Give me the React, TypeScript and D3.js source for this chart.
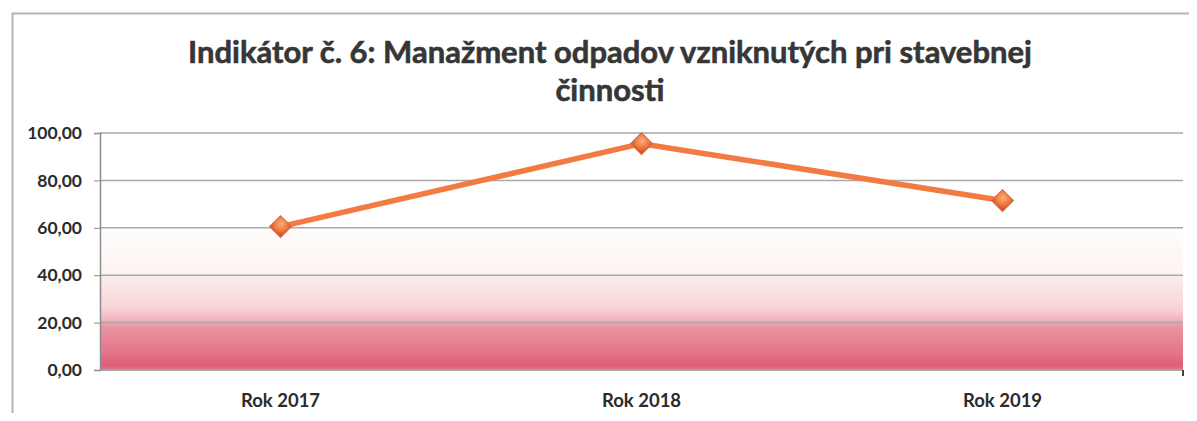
import React, { useEffect, useRef } from 'react'
import * as d3 from 'd3'

const categories = ['Rok 2017', 'Rok 2018', 'Rok 2019']
const values = [60.5, 95.5, 71.5]
const yTicks = [0, 20, 40, 60, 80, 100]
const titleLines = ['Indikátor č. 6: Manažment odpadov vzniknutých pri stavebnej', 'činnosti']

const App = () => {
  const svgRef = useRef<SVGSVGElement>(null)

  useEffect(() => {
    const width = 1197
    const height = 421
    const margin = { top: 133, right: 14, bottom: 51, left: 100 }
    const innerW = width - margin.left - margin.right
    const innerH = height - margin.top - margin.bottom
    const font = 'Lato, "Open Sans", sans-serif'

    const svg = d3.select(svgRef.current)
      .attr('width', width)
      .attr('height', height)
    svg.selectAll('*').remove()

    // frame
    svg.append('rect').attr('width', width).attr('height', height).attr('fill', '#fff')
    svg.append('path')
      .attr('d', `M12.5,${height} V13.5 H${width}`)
      .attr('fill', 'none')
      .attr('stroke', '#b5b5b5')
      .attr('stroke-width', 2)

    // title
    const title = svg.append('text')
      .attr('text-anchor', 'middle')
      .attr('font-family', font)
      .attr('font-weight', 700)
      .attr('font-size', 31)
      .attr('fill', '#363636')
      .attr('stroke', '#363636')
      .attr('stroke-width', 0.6)
    titleLines.forEach((t, i) => {
      title.append('tspan').attr('x', 610).attr('y', 63 + i * 38).text(t)
    })

    const g = svg.append('g').attr('transform', `translate(${margin.left},${margin.top})`)

    const x = d3.scaleBand().domain(categories).range([0, innerW])
    const y = d3.scaleLinear().domain([0, 100]).range([innerH, 0])

    // background gradient of plot area
    const defs = svg.append('defs')
    const grad = defs.append('linearGradient')
      .attr('id', 'bg-grad')
      .attr('x1', 0).attr('y1', 0).attr('x2', 0).attr('y2', 1)
    const stops: [number, string][] = [
      [0, '#ffffff'],
      [0.38, '#ffffff'],
      [0.44, '#fefbfa'],
      [0.595, '#fcf4f3'],
      [0.605, '#fbeded'],
      [0.74, '#f8d4d8'],
      [0.785, '#f4b6bf'],
      [0.8, '#efa3ae'],
      [0.82, '#eb93a0'],
      [0.93, '#e3738a'],
      [0.98, '#dd5f77'],
      [1, '#e2798a'],
    ]
    stops.forEach(([o, c]) => grad.append('stop').attr('offset', o).attr('stop-color', c))

    g.append('rect')
      .attr('width', innerW)
      .attr('height', innerH)
      .attr('fill', 'url(#bg-grad)')

    // gridlines
    g.append('g')
      .selectAll('line')
      .data(yTicks.filter(d => d > 0))
      .join('line')
      .attr('x1', 0)
      .attr('x2', innerW)
      .attr('y1', d => y(d))
      .attr('y2', d => y(d))
      .attr('stroke', '#a9a9a9')
      .attr('stroke-width', 1.5)

    // y axis
    const yAxis = g.append('g')
      .call(d3.axisLeft(y).tickValues(yTicks).tickSize(6).tickFormat(d => d3.format('.2f')(d as number).replace('.', ',')))
    yAxis.select('.domain').attr('stroke', '#8c8c8c').attr('stroke-width', 1.5)
    yAxis.selectAll('.tick line').attr('stroke', '#8c8c8c')
    yAxis.selectAll('.tick text')
      .attr('x', -18)
      .attr('font-family', font)
      .attr('font-weight', 700)
      .attr('font-size', 17.5)
      .attr('fill', '#2b2b2b')

    // x axis
    const xAxis = g.append('g')
      .attr('transform', `translate(0,${innerH})`)
      .call(d3.axisBottom(x).tickSize(0).tickPadding(0))
    xAxis.select('.domain').attr('stroke', '#b0b0b0').attr('stroke-width', 1)
    xAxis.selectAll('.tick text')
      .attr('y', 37)
      .attr('dy', 0)
      .attr('font-family', font)
      .attr('font-weight', 700)
      .attr('font-size', 18.5)
      .attr('fill', '#2b2b2b')
    xAxis.append('line')
      .attr('x1', innerW).attr('x2', innerW)
      .attr('y1', 0).attr('y2', 6)
      .attr('stroke', '#444').attr('stroke-width', 2)

    // line
    const cx = (c: string) => (x(c) ?? 0) + x.bandwidth() / 2
    const line = d3.line<number>()
      .x((_, i) => cx(categories[i]))
      .y(d => y(d))

    g.append('path')
      .datum(values)
      .attr('d', line)
      .attr('fill', 'none')
      .attr('stroke', '#f47a43')
      .attr('stroke-width', 5.5)
      .attr('stroke-linejoin', 'round')

    const mg = defs.append('radialGradient').attr('id', 'marker-grad')
      .attr('cx', '40%').attr('cy', '35%').attr('r', '70%')
    mg.append('stop').attr('offset', 0).attr('stop-color', '#fbae7c')
    mg.append('stop').attr('offset', 0.6).attr('stop-color', '#f47a43')
    mg.append('stop').attr('offset', 1).attr('stop-color', '#c95a2c')

    g.append('g')
      .selectAll('path')
      .data(values)
      .join('path')
      .attr('d', d3.symbol(d3.symbolSquare, 240)())
      .attr('transform', (d, i) => `translate(${cx(categories[i])},${y(d)}) rotate(45)`)
      .attr('fill', 'url(#marker-grad)')
      .attr('stroke', '#e0683a')
      .attr('stroke-width', 1)
  }, [])

  return <svg ref={svgRef} style={{ display: 'block', margin: -8 }}></svg>
}

export default App
